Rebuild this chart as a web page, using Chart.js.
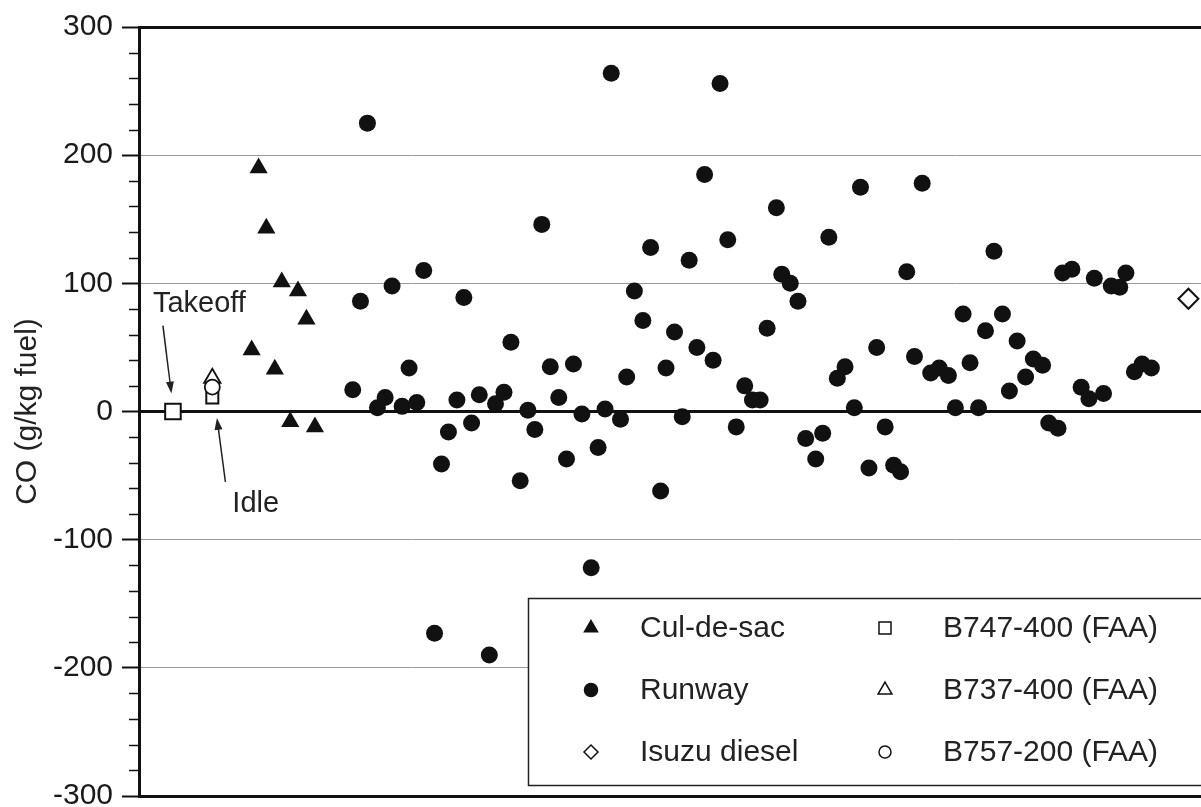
<!DOCTYPE html>
<html>
<head>
<meta charset="utf-8">
<script src="https://cdn.jsdelivr.net/npm/chart.js@4.4.0/dist/chart.umd.min.js"></script>
<style>
  html, body { margin: 0; padding: 0; background: #fff; overflow: hidden; }
  #wrap { width: 1240px; height: 807px; overflow: hidden; }
</style>
</head>
<body>
<div id="wrap"><canvas id="coChart" width="1240" height="823"></canvas></div>
<script>
// sample number along the campaign (x) and CO emission index in g/kg fuel (y)
const culdesacX = [14.6, 15.5, 16.5, 17.6, 18.5, 19.6, 20.6, 21.7, 22.8];
const culdesacCO = [48, 190, 143, 33, 101, -8, 94, 72, -12];

const runwayX = [
    27.7, 28.7, 29.6, 30.9, 31.9, 32.8, 34.1, 35.0, 36.0, 36.9,
    38.3, 39.2, 40.1, 41.2, 42.1, 43.1, 44.1, 45.4, 46.2, 47.3,
    48.2, 49.4, 50.4, 51.3, 52.2, 53.3, 54.4, 55.4, 56.3, 57.4,
    58.6, 59.5, 60.4, 61.2, 62.4, 63.2, 64.2, 65.3, 66.3, 67.6,
    68.3, 69.4, 70.4, 71.3, 72.3, 73.3, 74.4, 75.3, 76.3, 77.4,
    78.5, 79.5, 80.5, 81.4, 82.6, 83.3, 84.4, 85.4, 86.4, 87.7,
    88.6, 89.4, 90.5, 91.5, 92.7, 93.5, 94.6, 95.6, 96.7, 97.8,
    98.7, 99.5, 100.5, 101.5, 102.6, 103.7, 104.9, 105.8, 106.8, 107.7,
    108.8, 109.7, 110.8, 111.9, 112.8, 113.8, 114.9, 115.9, 117.1, 117.9,
    119.1, 119.7, 120.9, 122.1, 123.1, 123.8, 125.0, 126.0, 127.1, 127.9,
    129.0, 130.0, 131.2
];
const runwayCO = [
    17, 86, 225, 3, 11, 98, 4, 34, 7, 110,
    -173, -41, -16, 9, 89, -9, 13, -190, 6, 15,
    54, -54, 1, -14, 146, 35, 11, -37, 37, -2,
    -122, -28, 2, 264, -6, 27, 94, 71, 128, -62,
    34, 62, -4, 118, 50, 185, 40, 256, 134, -12,
    20, 9, 9, 65, 159, 107, 100, 86, -21, -37,
    -17, 136, 26, 35, 3, 175, -44, 50, -12, -42,
    -47, 109, 43, 178, 30, 34, 28, 3, 76, 38,
    3, 63, 125, 76, 16, 55, 27, 41, 36, -9,
    -13, 108, 111, 19, 10, 104, 14, 98, 97, 108,
    31, 37, 34
];

const isuzuX = [136.0];
const isuzuCO = [88];

// FAA certification values: takeoff and idle
const b747X = [4.4, 9.5];
const b747CO = [0, 11];
const b737X = [9.5];
const b737CO = [26];
const b757X = [9.5];
const b757CO = [19];

const yTicks = [-300, -200, -100, 0, 100, 200, 300];

const FONT = '"Liberation Sans", Arial, Helvetica, sans-serif';
const INK = '#111';

function toPoints(xs, ys) {
    return xs.map((x, i) => ({ x: x, y: ys[i] }));
}

function arrow(ctx, x1, y1, x2, y2) {
    const ang = Math.atan2(y2 - y1, x2 - x1);
    const len = 12, half = 4;
    ctx.beginPath();
    ctx.moveTo(x1, y1);
    ctx.lineTo(x2 - Math.cos(ang) * len * 0.8, y2 - Math.sin(ang) * len * 0.8);
    ctx.stroke();
    ctx.beginPath();
    ctx.moveTo(x2, y2);
    ctx.lineTo(x2 - Math.cos(ang) * len + Math.sin(ang) * half, y2 - Math.sin(ang) * len - Math.cos(ang) * half);
    ctx.lineTo(x2 - Math.cos(ang) * len - Math.sin(ang) * half, y2 - Math.sin(ang) * len + Math.cos(ang) * half);
    ctx.closePath();
    ctx.fill();
}

// short unlabeled ticks every 20 units on the y axis
const minorTicks = {
    id: 'minorTicks',
    afterDraw(chart) {
        const { ctx, chartArea, scales } = chart;
        ctx.save();
        ctx.strokeStyle = INK;
        ctx.lineWidth = 1.5;
        for (let v = -280; v < 300; v += 20) {
            if (v % 100 === 0) continue;
            const py = Math.round(scales.y.getPixelForValue(v)) + 0.5;
            ctx.beginPath();
            ctx.moveTo(chartArea.left - 10, py);
            ctx.lineTo(chartArea.left, py);
            ctx.stroke();
        }
        ctx.restore();
    }
};

// "Takeoff" / "Idle" call-outs
const callouts = {
    id: 'callouts',
    afterDatasetsDraw(chart) {
        const { ctx, scales } = chart;
        const X = v => scales.x.getPixelForValue(v);
        const Y = v => scales.y.getPixelForValue(v);
        ctx.save();
        ctx.fillStyle = '#222';
        ctx.strokeStyle = '#222';
        ctx.lineWidth = 1.5;
        ctx.font = '29px ' + FONT;
        ctx.textBaseline = 'middle';
        ctx.textAlign = 'left';
        ctx.fillText('Takeoff', X(1.8), Y(84));
        arrow(ctx, X(3.1), Y(67), X(4.2), Y(14));
        ctx.fillText('Idle', X(12.1), Y(-72));
        arrow(ctx, X(11.2), Y(-55), X(10.1), Y(-5));
        ctx.restore();
    }
};

// boxed two-column legend in the lower right corner
const boxLegend = {
    id: 'boxLegend',
    afterDatasetsDraw(chart) {
        const { ctx, width } = chart;
        const draw = Chart.helpers.drawPoint;
        ctx.save();
        ctx.fillStyle = '#fff';
        ctx.fillRect(528, 598, width, 187);
        ctx.strokeStyle = '#222';
        ctx.lineWidth = 1.5;
        ctx.strokeRect(528.5, 598.5, width, 187);

        const rows = [628, 690, 752];
        const items = [
            { col: 0, row: 0, text: 'Cul-de-sac', style: 'triangle', r: 7.5, fill: INK },
            { col: 0, row: 1, text: 'Runway', style: 'circle', r: 6.5, fill: INK },
            { col: 0, row: 2, text: 'Isuzu diesel', style: 'rectRot', r: 7, fill: '#fff' },
            { col: 1, row: 0, text: 'B747-400 (FAA)', style: 'rect', r: 8.5, fill: '#fff' },
            { col: 1, row: 1, text: 'B737-400 (FAA)', style: 'triangle', r: 8, fill: '#fff' },
            { col: 1, row: 2, text: 'B757-200 (FAA)', style: 'circle', r: 6, fill: '#fff' }
        ];
        const markX = [591, 885];
        const textX = [640, 943];
        ctx.font = '30px ' + FONT;
        ctx.textBaseline = 'middle';
        ctx.textAlign = 'left';
        items.forEach(it => {
            ctx.fillStyle = it.fill;
            ctx.strokeStyle = INK;
            draw(ctx, { pointStyle: it.style, radius: it.r, rotation: 0, borderWidth: 1.8 }, markX[it.col], rows[it.row]);
            ctx.fillStyle = '#222';
            ctx.fillText(it.text, textX[it.col], rows[it.row] + 1);
        });
        ctx.restore();
    }
};

document.addEventListener("DOMContentLoaded", function () {
    const ctx = document.getElementById('coChart').getContext('2d');

    new Chart(ctx, {
        type: 'scatter',
        data: {
            datasets: [
                {
                    label: 'B757-200 (FAA)',
                    data: toPoints(b757X, b757CO),
                    pointStyle: 'circle',
                    pointRadius: 7.5,
                    backgroundColor: '#fff',
                    borderColor: INK,
                    borderWidth: 1.8,
                    order: 0
                },
                {
                    label: 'B737-400 (FAA)',
                    data: toPoints(b737X, b737CO),
                    pointStyle: 'triangle',
                    pointRadius: 9.5,
                    backgroundColor: '#fff',
                    borderColor: INK,
                    borderWidth: 1.8,
                    order: 1
                },
                {
                    label: 'B747-400 (FAA)',
                    data: toPoints(b747X, b747CO),
                    pointStyle: 'rect',
                    pointRadius: [11, 8.5],
                    backgroundColor: '#fff',
                    borderColor: INK,
                    borderWidth: 2,
                    order: 2
                },
                {
                    label: 'Cul-de-sac',
                    data: toPoints(culdesacX, culdesacCO),
                    pointStyle: 'triangle',
                    pointRadius: 10.5,
                    backgroundColor: INK,
                    borderColor: INK,
                    borderWidth: 0,
                    order: 3
                },
                {
                    label: 'Runway',
                    data: toPoints(runwayX, runwayCO),
                    pointStyle: 'circle',
                    pointRadius: 8.5,
                    backgroundColor: INK,
                    borderColor: INK,
                    borderWidth: 0,
                    order: 4
                },
                {
                    label: 'Isuzu diesel',
                    data: toPoints(isuzuX, isuzuCO),
                    pointStyle: 'rectRot',
                    pointRadius: 10,
                    backgroundColor: '#fff',
                    borderColor: INK,
                    borderWidth: 2,
                    order: 5
                }
            ]
        },
        options: {
            responsive: false,
            animation: false,
            events: [],
            layout: { padding: { top: 25, bottom: 11, right: 0, left: 0 } },
            plugins: {
                legend: { display: false },
                tooltip: { enabled: false }
            },
            scales: {
                x: {
                    type: 'linear',
                    min: 0,
                    max: 141,
                    display: false
                },
                y: {
                    min: -300,
                    max: 300,
                    afterFit: scale => { scale.width = 139; },
                    afterBuildTicks: scale => { scale.ticks = yTicks.map(v => ({ value: v })); },
                    border: { display: true, color: INK, width: 3 },
                    grid: {
                        color: c => (c.tick && [0, 300, -300].includes(c.tick.value)) ? INK : '#9a9a9a',
                        lineWidth: c => (c.tick && [0, 300, -300].includes(c.tick.value)) ? 3 : 1,
                        tickColor: INK,
                        tickWidth: 2,
                        tickLength: 17
                    },
                    ticks: {
                        color: '#1a1a1a',
                        padding: 9,
                        font: { family: FONT, size: 30 }
                    },
                    title: {
                        display: true,
                        text: 'CO (g/kg fuel)',
                        color: '#222',
                        padding: { top: 10, bottom: 0 },
                        font: { family: FONT, size: 30 }
                    }
                }
            }
        },
        plugins: [minorTicks, callouts, boxLegend]
    });
});
</script>
</body>
</html>
